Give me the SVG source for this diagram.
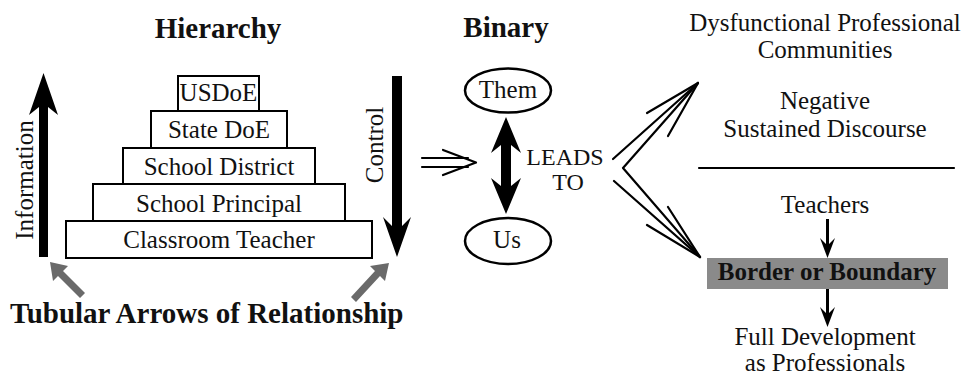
<svg xmlns="http://www.w3.org/2000/svg" width="966" height="377" viewBox="0 0 966 377">
<style>
text{font-family:"Liberation Serif","Times New Roman",serif;font-size:25px;fill:#111;}
.title{font-weight:bold;font-size:29px;}
.bold{font-weight:bold;}
.mid{text-anchor:middle;}
.small{font-size:24px;}
.box{fill:#fff;stroke:#000;stroke-width:2;}
.ell{fill:#fff;stroke:#000;stroke-width:2.5;}
.solid{fill:#000;stroke:none;}
.gray{fill:#6a6a6a;stroke:none;}
.line{fill:none;stroke:#000;stroke-width:2.2;stroke-linecap:round;stroke-linejoin:round;}
</style>
<rect width="966" height="377" fill="#fff"/>

<text class="title mid" x="218" y="38">Hierarchy</text>
<text class="title mid" x="506" y="37">Binary</text>

<g id="usdoe"><rect class="box" x="178" y="76" width="81" height="35"/><text class="mid" x="218.5" y="101">USDoE</text></g>
<g id="state-doe"><rect class="box" x="151" y="111" width="136" height="37"/><text class="mid" x="219" y="138">State DoE</text></g>
<g id="school-district"><rect class="box" x="123" y="148" width="192" height="36"/><text class="mid" x="219" y="175">School District</text></g>
<g id="school-principal"><rect class="box" x="93" y="184" width="252" height="37"/><text class="mid" x="219" y="212">School Principal</text></g>
<g id="classroom-teacher"><rect class="box" x="66" y="221" width="306" height="37"/><text class="mid" x="219" y="248">Classroom Teacher</text></g>

<g id="information-label"><text class="mid" transform="translate(33,180) rotate(-90)">Information</text></g>
<g id="control-label"><text class="mid" transform="translate(383,145) rotate(-90)">Control</text></g>

<g id="tubular-label"><text class="title" x="10" y="323">Tubular Arrows of Relationship</text></g>

<g id="them"><ellipse class="ell" cx="508" cy="90.5" rx="43" ry="22"/><text class="mid" x="508" y="98">Them</text></g>
<g id="us"><ellipse class="ell" cx="508" cy="241" rx="43" ry="23"/><text class="mid" x="507" y="248">Us</text></g>

<g id="leads-to"><text class="mid small" x="565" y="165">LEADS</text><text class="mid small" x="568" y="190">TO</text></g>

<g id="dysfunctional"><text class="mid" x="825" y="31">Dysfunctional Professional</text><text class="mid" x="825" y="58">Communities</text></g>
<g id="negative"><text class="mid" x="825" y="109">Negative</text><text class="mid" x="825" y="137">Sustained Discourse</text></g>
<g id="teachers"><text class="mid" x="825" y="213">Teachers</text></g>
<g id="border"><rect x="707" y="258" width="241" height="31" fill="#8a8a8a"/><text class="bold mid" x="827" y="280">Border or Boundary</text></g>
<g id="full-development"><text class="mid" x="825" y="345">Full Development</text><text class="mid" x="825" y="371">as Professionals</text></g>

<g id="connectors">
<path class="solid" d="M43.5,73 L58,115 L48,107 L48,257 L39,257 L39,107 L29,115 Z"/>
<path class="solid" d="M397,257 L411,217 L402,226 L402,76 L392,76 L392,226 L383,217 Z"/>
<path class="gray" d="M50,262 L68,266 L63,271 L85,293 L80,298 L58,276 L53,281 Z"/>
<path class="gray" d="M389,263 L385,281 L380,276 L356,302 L351,297 L375,271 L370,266 Z"/>
<path class="solid" d="M506,117 L521,153 L511,145 L511,186 L521,178 L506,214 L491,178 L501,186 L501,145 L491,153 Z"/>
<g class="line">
<line x1="422" y1="158" x2="468" y2="158"/>
<line x1="422" y1="167" x2="468" y2="167"/>
<polyline points="443,150 476,162.5 443,175"/>
<line x1="613" y1="159" x2="698" y2="83"/>
<polyline points="698,83 623,168 700,257"/>
<line x1="614" y1="181" x2="700" y2="257"/>
<line x1="647" y1="113" x2="698" y2="83"/>
<line x1="668" y1="136" x2="698" y2="83"/>
<line x1="668" y1="207" x2="700" y2="257"/>
<line x1="647" y1="225" x2="700" y2="257"/>
<line x1="699" y1="168" x2="954" y2="168"/>
</g>
<path class="solid" d="M826,219 L829,219 L829,244 L835,238 L827.5,258 L820,238 L826,244 Z"/>
<path class="solid" d="M826,289 L829,289 L829,313 L835,307 L827.5,327 L820,307 L826,313 Z"/>
</g>
</svg>
